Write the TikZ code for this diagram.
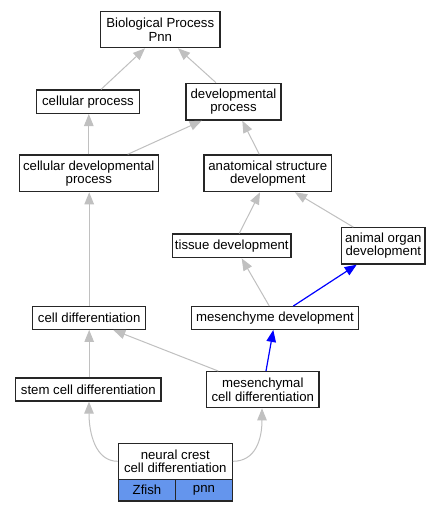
\documentclass[tikz,border=0pt]{standalone}
\usepackage{fontspec}
\setmainfont{Liberation Sans}
\usetikzlibrary{arrows.meta}
\definecolor{edgegray}{HTML}{C0C0C0}
\definecolor{cellblue}{HTML}{6495ED}
\begin{document}
\begin{tikzpicture}[x=1pt,y=-1pt,
  box/.style={draw=black!85, line width=1.3pt, fill=white, rectangle, inner sep=0pt, align=center,
    font=\fontsize{13.2}{13.2}\selectfont},
  cellbox/.style={box, fill=cellblue},
  gedge/.style={draw=edgegray, line width=1pt, -{Triangle[length=12pt,width=9.5pt]}},
  bedge/.style={draw=blue, line width=1.2pt, -{Triangle[length=12pt,width=9.5pt]}}]
\useasboundingbox (0,0) rectangle (440,512);
\fill[white] (0,0) rectangle (440,512);
% nodes
\node[box, minimum width=119.3pt, minimum height=36pt] (bio) at (160.3,29.7) {Biological Process\\Pnn};
\node[box, minimum width=102.6pt, minimum height=23.3pt] (cp) at (88,101.7) {cellular process};
\node[box, minimum width=95pt, minimum height=36.7pt] (dp) at (233.5,101.7) {developmental\\process};
\node[box, minimum width=139pt, minimum height=36.7pt] (cdp) at (88.8,173.3) {cellular developmental\\process};
\node[box, minimum width=127.7pt, minimum height=36.7pt] (anat) at (267.8,173.3) {anatomical structure\\development};
\node[box, minimum width=118.3pt, minimum height=23.7pt] (tissue) at (231.8,245.9) {tissue development};
\node[box, minimum width=83.5pt, minimum height=36.3pt] (aorg) at (383.3,245.9) {animal organ\\development};
\node[box, minimum width=166.6pt, minimum height=22.6pt] (mesdev) at (275,318) {mesenchyme development};
\node[box, minimum width=113pt, minimum height=22.6pt] (celldiff) at (89.2,318) {cell differentiation};
\node[box, minimum width=145.3pt, minimum height=23pt] (stem) at (88.3,389.5) {stem cell differentiation};
\node[box, minimum width=112.3pt, minimum height=36pt] (mcd) at (262.8,389.7) {mesenchymal\\cell differentiation};
\node[box, minimum width=114pt, minimum height=36pt] (nc) at (175.3,461.3) {neural crest\\cell differentiation};
\node[cellbox, minimum width=57.4pt, minimum height=21.7pt] (zf) at (147,490.2) {Zfish};
\node[cellbox, minimum width=56.6pt, minimum height=21.7pt] (pn) at (204,490.2) {pnn};
% edges
\draw[gedge] ([xshift=13pt]cp.north) -- ([xshift=-15.3pt]bio.south);
\draw[gedge] ([xshift=-17.5pt]dp.north) -- ([xshift=17.7pt]bio.south);
\draw[gedge] (cdp.north) -- (cdp.north |- cp.south);
\draw[gedge] ([xshift=38.9pt]cdp.north) -- ([xshift=-31.8pt]dp.south);
\draw[gedge] ([xshift=-8.5pt]anat.north) -- ([xshift=8.8pt]dp.south);
\draw[gedge] ([xshift=7.5pt]tissue.north) -- ([xshift=-7.8pt]anat.south);
\draw[gedge] ([xshift=-30pt]aorg.north) -- ([xshift=27.2pt]anat.south);
\draw[gedge] (celldiff.north) -- (celldiff.north |- cdp.south);
\draw[gedge] ([xshift=-5.7pt]mesdev.north) -- ([xshift=9.9pt]tissue.south);
\draw[bedge] ([xshift=18.3pt]mesdev.north) -- ([xshift=-26.6pt]aorg.south);
\draw[gedge] (celldiff.south |- stem.north) -- (celldiff.south);
\draw[gedge] ([xshift=-44.5pt]mcd.north) -- ([xshift=24.1pt]celldiff.south);
\draw[bedge] ([xshift=3.2pt]mcd.north) -- ([xshift=-1.7pt]mesdev.south);
\draw[gedge] (nc.west) .. controls +(-22,0) and +(0,32) .. ([xshift=0.7pt]stem.south);
\draw[gedge] (nc.east) .. controls +(22,0) and +(0,32) .. ([xshift=-0.8pt]mcd.south);
\end{tikzpicture}
\end{document}
